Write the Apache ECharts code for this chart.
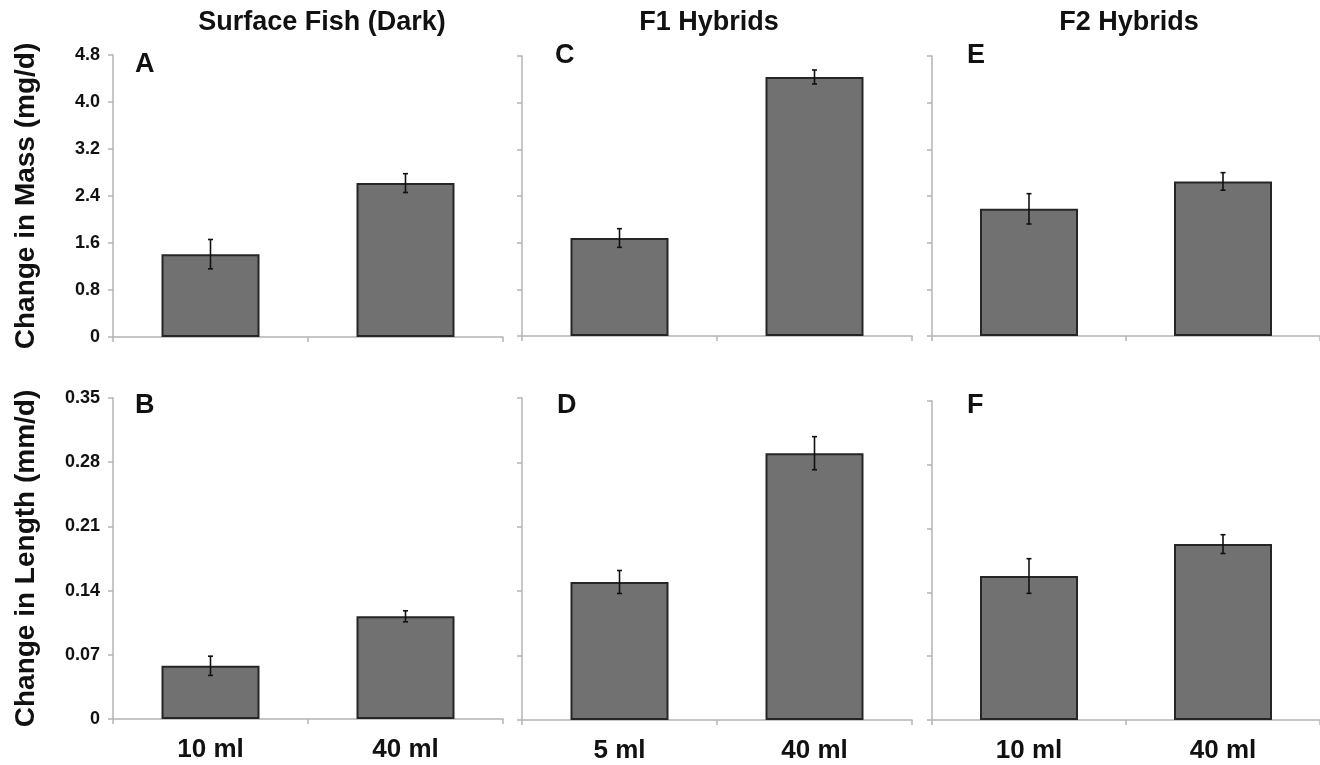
<!DOCTYPE html>
<html>
<head>
<meta charset="utf-8">
<script src="https://cdn.jsdelivr.net/npm/echarts@6/dist/echarts.min.js"></script>
<style>
html,body{margin:0;padding:0;background:#fff;}
#chart{width:1320px;height:765px;}
</style>
</head>
<body>
<div id="chart"></div>
<script>
// ---- Data ----
const groupTitles = ['Surface Fish (Dark)', 'F1 Hybrids', 'F2 Hybrids'];
const panelLetters = ['A', 'B', 'C', 'D', 'E', 'F'];
const catsSurface = ['10 ml', '40 ml'];
const catsF1 = ['5 ml', '40 ml'];
const catsF2 = ['10 ml', '40 ml'];
const massTicks = { min: 0, max: 4.8, interval: 0.8 };
const lengthTicks = { min: 0, max: 0.35, interval: 0.07 };
const massName = 'Change in Mass (mg/d)';
const lengthName = 'Change in Length (mm/d)';

const massA = [1.41, 2.62];
const massAErr = [0.25, 0.16];
const lenB = [0.058, 0.112];
const lenBErr = [0.0105, 0.006];
const massC = [1.68, 4.44];
const massCErr = [0.16, 0.12];
const lenD = [0.150, 0.290];
const lenDErr = [0.0125, 0.018];
const massE = [2.18, 2.65];
const massEErr = [0.26, 0.15];
const lenF = [0.158, 0.193];
const lenFErr = [0.019, 0.0103];

// ---- Build ----
const FONT = '"Liberation Sans", Arial, Helvetica, sans-serif';
const panels = [
  { cats: catsSurface, vals: massA, errs: massAErr, ticks: massTicks, dec: 1, showY: true, name: massName, bottom: false },
  { cats: catsSurface, vals: lenB, errs: lenBErr, ticks: lengthTicks, dec: 2, showY: true, name: lengthName, bottom: true },
  { cats: catsF1, vals: massC, errs: massCErr, ticks: massTicks, dec: 1, showY: false, name: '', bottom: false },
  { cats: catsF1, vals: lenD, errs: lenDErr, ticks: lengthTicks, dec: 2, showY: false, name: '', bottom: true },
  { cats: catsF2, vals: massE, errs: massEErr, ticks: massTicks, dec: 1, showY: false, name: '', bottom: false },
  { cats: catsF2, vals: lenF, errs: lenFErr, ticks: lengthTicks, dec: 2, showY: false, name: '', bottom: true }
];

const gridPos = [
  { left: 113, top: 55, width: 390, height: 282 },
  { left: 113, top: 398, width: 390, height: 321 },
  { left: 522, top: 56, width: 390, height: 280 },
  { left: 522, top: 398, width: 390, height: 322 },
  { left: 932, top: 56, width: 388, height: 280 },
  { left: 932, top: 401, width: 388, height: 319 }
];

const axisGray = '#b4b4b4';
const xAxes = [], yAxes = [], series = [];
panels.forEach((p, i) => {
  xAxes.push({
    type: 'category', gridIndex: i, data: p.cats,
    axisLine: { lineStyle: { color: axisGray, width: 1.5 } },
    axisTick: { show: true, length: 5, lineStyle: { color: axisGray, width: 1.5 } },
    axisLabel: { show: p.bottom, color: '#111', fontFamily: FONT, fontWeight: 'bold', fontSize: 26, margin: 18 }
  });
  yAxes.push({
    type: 'value', gridIndex: i, min: p.ticks.min, max: p.ticks.max, interval: p.ticks.interval,
    splitLine: { show: false },
    axisLine: { show: true, lineStyle: { color: axisGray, width: 1.5 } },
    axisTick: { show: true, length: 5, lineStyle: { color: axisGray, width: 1.5 } },
    axisLabel: {
      show: p.showY, color: '#111', fontFamily: FONT, fontWeight: 'bold', fontSize: 18, margin: 13,
      formatter: v => (v === 0 ? '0' : v.toFixed(p.dec))
    },
    name: p.name, nameLocation: 'middle', nameRotate: 90, nameGap: 73,
    nameTextStyle: { color: '#111', fontFamily: FONT, fontWeight: 'bold', fontSize: 28 }
  });
  series.push({
    type: 'bar', xAxisIndex: i, yAxisIndex: i, data: p.vals, barWidth: 98,
    itemStyle: { color: '#717171', borderColor: '#262626', borderWidth: 2 },
    silent: true, animation: false
  });
  series.push({
    type: 'custom', xAxisIndex: i, yAxisIndex: i, silent: true, animation: false, z: 10,
    data: p.vals.map((v, k) => [k, v, p.errs[k]]),
    encode: { x: 0, y: 1 },
    renderItem: function (params, api) {
      const x = api.value(0), v = api.value(1), e = api.value(2);
      const top = api.coord([x, v + e]);
      const bot = api.coord([x, v - e]);
      const cw = 2.5;
      const st = { stroke: '#111', lineWidth: 1.6 };
      return {
        type: 'group', children: [
          { type: 'line', shape: { x1: top[0], y1: top[1], x2: bot[0], y2: bot[1] }, style: st },
          { type: 'line', shape: { x1: top[0] - cw, y1: top[1], x2: top[0] + cw, y2: top[1] }, style: st },
          { type: 'line', shape: { x1: bot[0] - cw, y1: bot[1], x2: bot[0] + cw, y2: bot[1] }, style: st }
        ]
      };
    }
  });
});

const titleStyle = { color: '#111', fontFamily: FONT, fontWeight: 'bold', fontSize: 27 };
const letterStyle = { color: '#111', fontFamily: FONT, fontWeight: 'bold', fontSize: 27 };
const titles = [
  { text: groupTitles[0], left: 317, top: 4, textAlign: 'center', textStyle: titleStyle },
  { text: groupTitles[1], left: 704, top: 4, textAlign: 'center', textStyle: titleStyle },
  { text: groupTitles[2], left: 1124, top: 4, textAlign: 'center', textStyle: titleStyle }
];
const letterPos = [[135, 51], [135, 392], [555, 42], [557, 392], [967, 42], [967, 392]];
panelLetters.forEach((L, i) => {
  titles.push({ text: L, left: letterPos[i][0], top: letterPos[i][1], padding: 0, textStyle: letterStyle });
});

const chart = echarts.init(document.getElementById('chart'), null, { renderer: 'canvas' });
chart.setOption({
  backgroundColor: '#fff',
  animation: false,
  title: titles,
  grid: gridPos,
  xAxis: xAxes,
  yAxis: yAxes,
  series: series
});
</script>
</body>
</html>
